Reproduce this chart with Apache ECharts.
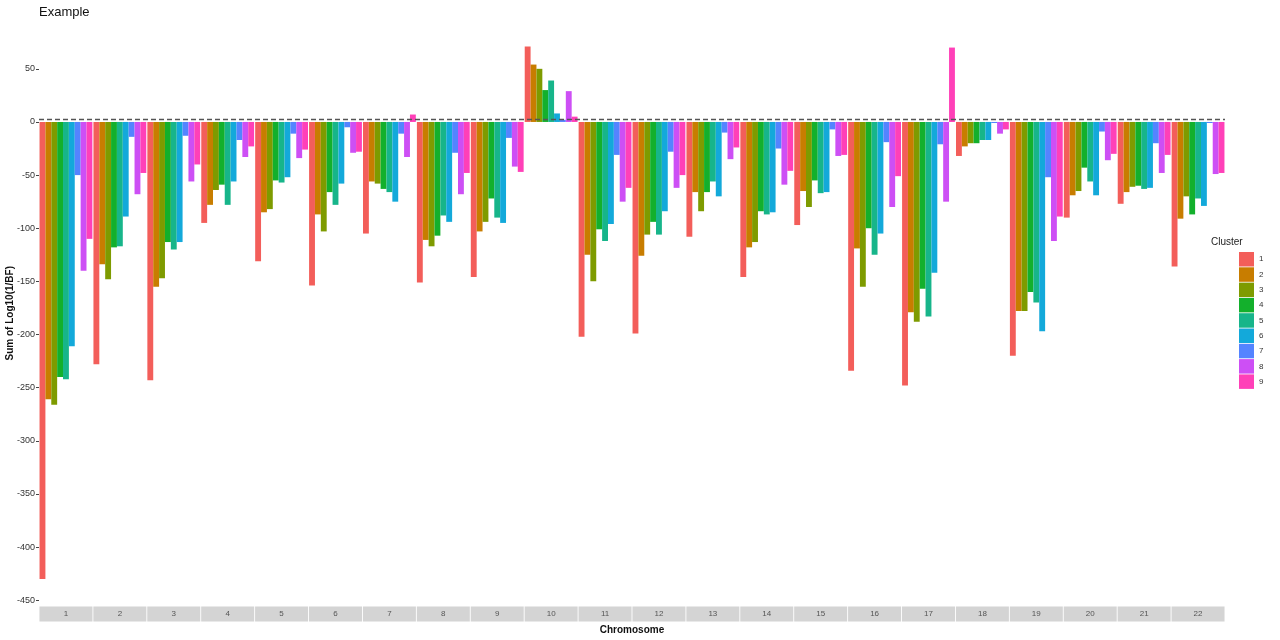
<!DOCTYPE html>
<html>
<head>
<meta charset="utf-8">
<script src="https://cdn.jsdelivr.net/npm/echarts@6/dist/echarts.min.js"></script>
<style>
  html, body { margin: 0; padding: 0; background: #fff; }
  #chart { width: 1280px; height: 640px; }
</style>
</head>
<body>
<div id="chart"></div>
<script>
// chromosomes along x, one bar per cluster in each
const chromosomes = ['1', '2', '3', '4', '5', '6', '7', '8', '9', '10', '11',
  '12', '13', '14', '15', '16', '17', '18', '19', '20', '21', '22'];
const clusters = ['1', '2', '3', '4', '5', '6', '7', '8', '9'];

const cluster1 = [-430, -228, -243, -95, -131, -154, -105, -151, -146, 71, -202, -199, -108, -146, -97, -234, -248, -32, -220, -90, -77, -136];
const cluster2 = [-261, -134, -155, -78, -85, -87, -56, -111, -103, 54, -125, -126, -66, -118, -65, -119, -179, -23, -178, -69, -66, -91];
const cluster3 = [-266, -148, -147, -64, -82, -103, -58, -117, -94, 50, -150, -106, -84, -113, -80, -155, -188, -20, -178, -65, -61, -70];
const cluster4 = [-240, -118, -113, -59, -55, -66, -63, -107, -72, 30, -101, -94, -66, -84, -55, -100, -157, -20, -160, -43, -60, -87];
const cluster5 = [-242, -117, -120, -78, -57, -78, -66, -88, -90, 39, -112, -106, -56, -87, -67, -125, -183, -17, -170, -56, -63, -72];
const cluster6 = [-211, -89, -113, -56, -52, -58, -75, -94, -95, 8, -96, -84, -70, -85, -66, -105, -142, -17, -197, -69, -62, -79];
const cluster7 = [-50, -14, -13, -17, -11, -5, -11, -29, -15, 2, -31, -28, -10, -25, -7, -19, -21, -1, -52, -9, -20, -1];
const cluster8 = [-140, -68, -56, -33, -34, -29, -33, -68, -42, 29, -75, -62, -35, -59, -32, -80, -75, -11, -112, -36, -48, -49];
const cluster9 = [-110, -48, -40, -23, -26, -28, 7, -48, -47, 5, -62, -50, -24, -46, -31, -51, 70, -7, -89, -30, -31, -48];

const yTicks = [-450, -400, -350, -300, -250, -200, -150, -100, -50, 0, 50];
const threshold = 3;

const clusterValues = [cluster1, cluster2, cluster3, cluster4, cluster5,
  cluster6, cluster7, cluster8, cluster9];
const colors = ['#F35E5A', '#C87D00', '#7E9B00', '#13B02C', '#17B58A',
  '#13A9DA', '#5484FF', '#CD4FF5', '#FF40B8'];

const series = clusters.map((name, i) => {
  const s = {
    name: name,
    type: 'bar',
    data: clusterValues[i],
    barGap: 0,
    barCategoryGap: '2%',
    itemStyle: { color: colors[i] },
    emphasis: { disabled: true }
  };
  if (i === clusters.length - 1) {
    s.markLine = {
      silent: true,
      symbol: 'none',
      z: 10,
      label: { show: false },
      lineStyle: { color: '#555', type: [5, 3], width: 1.3 },
      data: [{ yAxis: threshold }]
    };
  }
  return s;
});

const chart = echarts.init(document.getElementById('chart'));
chart.setOption({
  animation: false,
  color: colors,
  title: [
    {
      text: 'Example',
      left: 34,
      top: 1,
      textStyle: { fontSize: 13, fontWeight: 'normal', color: '#111', fontFamily: 'Liberation Sans' }
    },
    {
      text: 'Cluster',
      left: 1206,
      top: 232,
      textStyle: { fontSize: 10, fontWeight: 'normal', color: '#222', fontFamily: 'Liberation Sans' }
    }
  ],
  legend: {
    orient: 'vertical',
    left: 1239,
    top: 252,
    padding: 0,
    icon: 'rect',
    itemWidth: 15,
    itemHeight: 14.5,
    itemGap: 0.8,
    selectedMode: false,
    textStyle: { fontSize: 8, color: '#333', fontFamily: 'Liberation Sans' },
    data: clusters
  },
  grid: { left: 39, right: 55, top: 21, bottom: 34.5, containLabel: false, outerBoundsMode: 'none' },
  xAxis: {
    type: 'category',
    data: chromosomes,
    name: 'Chromosome',
    nameLocation: 'middle',
    nameGap: 20,
    nameMoveOverlap: false,
    nameTextStyle: { fontSize: 10, fontWeight: 'bold', color: '#111', fontFamily: 'Liberation Sans' },
    axisLine: { show: false },
    axisTick: { show: false },
    axisLabel: {
      interval: 0,
      margin: 1,
      width: 53,
      height: 15,
      lineHeight: 15,
      padding: 0,
      align: 'center',
      backgroundColor: '#d4d4d4',
      fontSize: 8,
      color: '#555',
      fontFamily: 'Liberation Sans'
    }
  },
  yAxis: {
    type: 'value',
    min: -455,
    max: 95,
    name: 'Sum of Log10(1/BF)',
    nameLocation: 'middle',
    nameGap: 24,
    nameMoveOverlap: false,
    nameTextStyle: { fontSize: 10, fontWeight: 'bold', color: '#111', fontFamily: 'Liberation Sans' },
    splitLine: { show: false },
    axisLine: { show: false },
    axisTick: { show: true, length: 3, lineStyle: { color: '#444' }, customValues: yTicks },
    axisLabel: {
      customValues: yTicks,
      margin: 4,
      fontSize: 9,
      color: '#333',
      fontFamily: 'Liberation Sans'
    }
  },
  series: series
});
</script>
</body>
</html>
